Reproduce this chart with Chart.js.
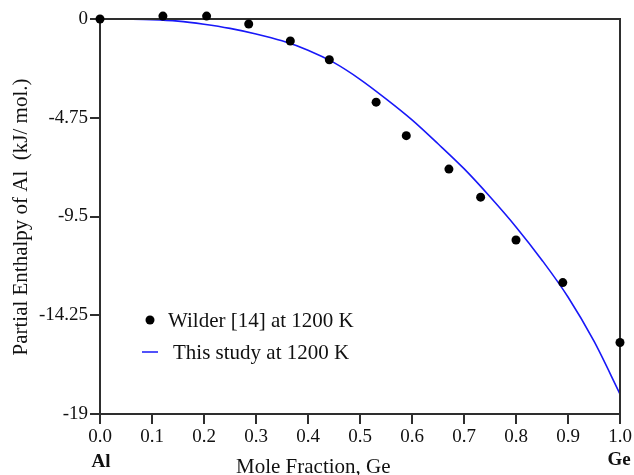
<!DOCTYPE html>
<html>
<head>
<meta charset="utf-8">
<script src="https://cdn.jsdelivr.net/npm/chart.js@4.4.1/dist/chart.umd.min.js"></script>
<style>
  html, body { margin: 0; padding: 0; background: #ffffff; }
  #wrap { width: 634px; height: 475px; }
</style>
</head>
<body>
<div id="wrap"><canvas id="c" width="634" height="475"></canvas></div>
<script>
// ---- data ----
const wilderX = [0, 0.121, 0.205, 0.286, 0.366, 0.441, 0.531, 0.589, 0.671, 0.732, 0.800, 0.890, 1.0];
const wilderY = [0, 0.14, 0.14, -0.24, -1.06, -1.96, -4.0, -5.61, -7.22, -8.57, -10.63, -12.68, -15.56];

const studyX = [0, 0.05, 0.10, 0.15, 0.20, 0.25, 0.30, 0.35, 0.40, 0.45, 0.50, 0.55, 0.60, 0.65, 0.70, 0.75, 0.80, 0.85, 0.90, 0.95, 1.0];
const studyY = [0, -0.01, -0.03, -0.10, -0.25, -0.45, -0.72, -1.05, -1.50, -2.10, -2.90, -3.84, -4.85, -6.00, -7.20, -8.55, -10.0, -11.6, -13.37, -15.5, -18.04];

const xTicks = [0, 0.1, 0.2, 0.3, 0.4, 0.5, 0.6, 0.7, 0.8, 0.9, 1.0];
const yTicks = [0, -4.75, -9.5, -14.25, -19];
const yTickLabels = ['0', '-4.75', '-9.5', '-14.25', '-19'];

const seriesNames = ['Wilder [14] at 1200 K', 'This study at 1200 K'];
const xTitle = 'Mole Fraction, Ge';
const yTitle = 'Partial Enthalpy of Al  (kJ/ mol.)';
const leftEnd = 'Al';
const rightEnd = 'Ge';

// ---- styling ----
const FONT = "'Liberation Serif', 'Times New Roman', serif";
const AXIS = '#2e2e2e';
const BLUE = '#1818f8';

const wilderPts = wilderX.map((x, i) => ({ x: x, y: wilderY[i] }));
const studyPts = studyX.map((x, i) => ({ x: x, y: studyY[i] }));

const decorPlugin = {
  id: 'decor',
  afterDatasetDraw(chart, args) {
    if (args.index !== 1) return;
    // frame (top & right borders) drawn over the curve, under the dots
    const a = chart.chartArea;
    const ctx = chart.ctx;
    ctx.save();
    ctx.strokeStyle = AXIS;
    ctx.lineWidth = 2;
    ctx.beginPath();
    ctx.moveTo(a.left, a.top);
    ctx.lineTo(a.right, a.top);
    ctx.lineTo(a.right, a.bottom);
    ctx.stroke();
    ctx.restore();
  },
  afterDraw(chart) {
    const ctx = chart.ctx;
    ctx.save();
    ctx.fillStyle = '#111';
    // x title
    ctx.font = '21px ' + FONT;
    ctx.textAlign = 'left';
    ctx.textBaseline = 'middle';
    ctx.fillText(xTitle, 236, 467);
    // y title
    ctx.save();
    ctx.translate(21, 217);
    ctx.rotate(-Math.PI / 2);
    ctx.textAlign = 'center';
    ctx.textBaseline = 'middle';
    ctx.fillText(yTitle, 0, 0);
    ctx.restore();
    // end labels
    ctx.font = 'bold 19px ' + FONT;
    ctx.textAlign = 'center';
    ctx.fillText(leftEnd, 101, 462);
    ctx.fillText(rightEnd, 619, 460);
    // legend
    ctx.font = '21px ' + FONT;
    ctx.textAlign = 'left';
    ctx.fillStyle = '#000';
    ctx.beginPath();
    ctx.arc(150, 320, 4.5, 0, Math.PI * 2);
    ctx.fill();
    ctx.fillStyle = '#111';
    ctx.fillText(seriesNames[0], 168, 321);
    ctx.strokeStyle = BLUE;
    ctx.lineWidth = 1.5;
    ctx.beginPath();
    ctx.moveTo(142, 352);
    ctx.lineTo(158, 352);
    ctx.stroke();
    ctx.fillText(seriesNames[1], 173, 353);
    ctx.restore();
  }
};

new Chart(document.getElementById('c'), {
  type: 'scatter',
  data: {
    datasets: [
      {
        label: seriesNames[0],
        data: wilderPts,
        pointRadius: 4.5,
        pointBackgroundColor: '#000',
        pointBorderWidth: 0,
        showLine: false,
        clip: false
      },
      {
        label: seriesNames[1],
        data: studyPts,
        showLine: true,
        borderColor: BLUE,
        borderWidth: 1.6,
        pointRadius: 0,
        cubicInterpolationMode: 'monotone',
        fill: false,
        clip: false
      }
    ]
  },
  options: {
    responsive: false,
    animation: false,
    devicePixelRatio: 1,
    layout: { padding: { top: 19, right: 14, left: 0, bottom: 0 } },
    plugins: {
      legend: { display: false },
      tooltip: { enabled: false },
      title: { display: false }
    },
    scales: {
      x: {
        type: 'linear',
        min: 0,
        max: 1,
        afterBuildTicks(scale) { scale.ticks = xTicks.map(v => ({ value: v })); },
        afterFit(scale) { scale.height = 61; },
        grid: { drawOnChartArea: false, drawTicks: true, tickLength: 10, color: AXIS, lineWidth: 2 },
        border: { display: true, color: AXIS, width: 2 },
        ticks: {
          color: '#111',
          padding: 2,
          maxRotation: 0,
          autoSkip: false,
          font: { family: FONT, size: 19 },
          callback: (v) => Number(v).toFixed(1)
        }
      },
      y: {
        type: 'linear',
        min: -19,
        max: 0,
        afterBuildTicks(scale) { scale.ticks = yTicks.map(v => ({ value: v })); },
        afterFit(scale) { scale.width = 100; },
        grid: { drawOnChartArea: false, drawTicks: true, tickLength: 10, color: AXIS, lineWidth: 2 },
        border: { display: true, color: AXIS, width: 2 },
        ticks: {
          color: '#111',
          padding: 2,
          autoSkip: false,
          font: { family: FONT, size: 19 },
          callback: (v) => { const i = yTicks.indexOf(v); return i >= 0 ? yTickLabels[i] : ''; }
        }
      }
    }
  },
  plugins: [decorPlugin]
});
</script>
</body>
</html>
